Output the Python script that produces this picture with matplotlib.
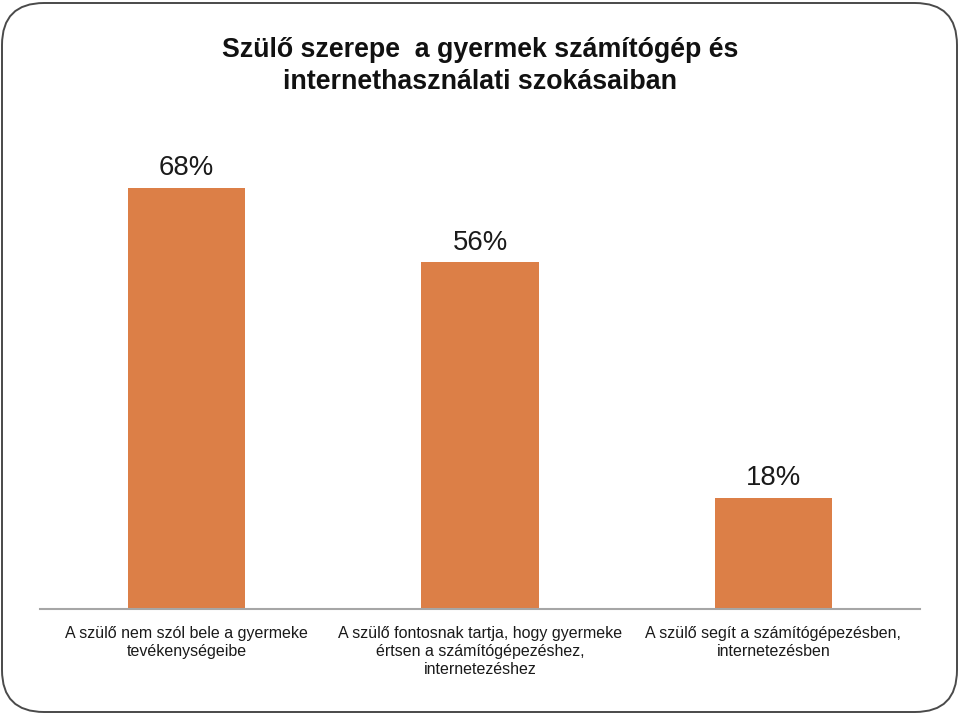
import matplotlib
matplotlib.use("Agg")
import matplotlib.pyplot as plt
from matplotlib.patches import FancyBboxPatch
from matplotlib.transforms import IdentityTransform

plt.rcParams['font.family'] = ['Liberation Sans', 'DejaVu Sans']

title = "Szülő szerepe  a gyermek számítógép és\ninternethasználati szokásaiban"
categories = [
    "A szülő nem szól bele a gyermeke\ntevékenységeibe",
    "A szülő fontosnak tartja, hogy gyermeke\nértsen a számítógépezéshez,\ninternetezéshez",
    "A szülő segít a számítógépezésben,\ninternetezésben",
]
values = [0.68, 0.56, 0.18]
value_labels = ["68%", "56%", "18%"]

W, H = 960, 714
fig = plt.figure(figsize=(W / 100, H / 100), dpi=100)
fig.patch.set_facecolor("white")

# rounded frame
frame = FancyBboxPatch((2, 2), W - 5, H - 5,
                       boxstyle="round,pad=0,rounding_size=42",
                       transform=IdentityTransform(), facecolor="none",
                       edgecolor="#4a4a4a", linewidth=1.4)
fig.patches.append(frame)

ax = fig.add_axes([40 / W, 105 / H, 880 / W, 495 / H])
x = list(range(len(categories)))
bars = ax.bar(x, values, width=0.4, color="#DC7F47", zorder=2)
ax.set_xlim(-0.5, 2.5)
ax.set_ylim(0, 0.8)

for xi, v, lab in zip(x, values, value_labels):
    ax.annotate(lab, (xi, v), xytext=(0, 5), textcoords="offset points",
                ha="center", va="bottom", fontsize=19.8, color="#1a1a1a")

ax.set_xticks(x)
ax.set_xticklabels(categories, fontsize=11.5, color="#1a1a1a", linespacing=1.25)
ax.tick_params(axis="x", length=0, pad=12)
ax.set_yticks([])
for s in ["top", "right", "left"]:
    ax.spines[s].set_visible(False)
ax.spines["bottom"].set_color("#a6a6a6")
ax.spines["bottom"].set_linewidth(1.5)

fig.text(480 / W, 1 - 66 / H, title, ha="center", va="center",
         fontsize=19.3, fontweight="bold", color="#111111", linespacing=1.3)

fig.savefig("out.png", dpi=100)
